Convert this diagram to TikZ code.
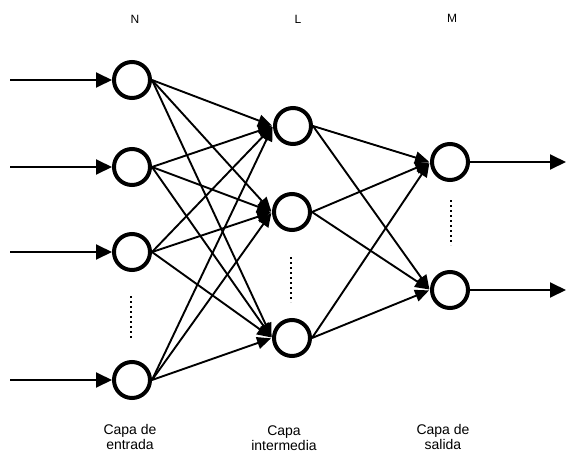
\documentclass[tikz,border=0pt]{standalone}
\usepackage{fontspec}
\setmainfont{Liberation Sans}
\usetikzlibrary{arrows.meta}
\begin{document}
\begin{tikzpicture}[x=1pt,y=-1pt,
  neuron/.style={circle,draw,line width=4pt,minimum size=36pt,inner sep=0pt},
  conn/.style={line width=1.9pt,-{Triangle[length=14pt,width=12pt]},shorten >=1pt},
  io/.style={line width=1.9pt,-{Triangle[length=16pt,width=15pt]}},
  dotsline/.style={line width=2.5pt,dash pattern=on 2pt off 3pt},
  toplabel/.style={font=\fontsize{12}{14}\selectfont,inner sep=0pt},
  caplabel/.style={font=\fontsize{14}{15.5}\selectfont,align=center,inner sep=0pt}]
\useasboundingbox (0,0) rectangle (566,453);
% nodes
\node[neuron] (i1) at (132,80) {};
\node[neuron] (i2) at (132,167) {};
\node[neuron] (i3) at (132,252) {};
\node[neuron] (i4) at (132,380) {};
\node[neuron] (h1) at (293,126) {};
\node[neuron] (h2) at (292,212) {};
\node[neuron] (h3) at (292,338) {};
\node[neuron] (o1) at (450,162) {};
\node[neuron] (o2) at (450,290) {};
% input / output free ends
\coordinate (a1) at (10,80);
\coordinate (a2) at (10,167);
\coordinate (a3) at (10,252);
\coordinate (a4) at (10,380);
\coordinate (b1) at (566,162);
\coordinate (b2) at (566,290);
\foreach \k in {1,2,3,4} \draw[io] (a\k) -- (i\k.west);
\foreach \k in {1,2} \draw[io] (o\k.east) -- (b\k);
% connections
\foreach \s in {1,2,3,4}
  \foreach \t in {1,2,3}
    \draw[conn] (i\s.east) -- (h\t.west);
\foreach \s in {1,2,3}
  \foreach \t in {1,2}
    \draw[conn] (h\s.east) -- (o\t.west);
% dotted ellipses
\coordinate (d1a) at (131,296); \coordinate (d1b) at (131,340);
\coordinate (d2a) at (291,257); \coordinate (d2b) at (291,302);
\coordinate (d3a) at (451,200); \coordinate (d3b) at (451,245);
\draw[dotsline] (d1a) -- (d1b);
\draw[dotsline] (d2a) -- (d2b);
\draw[dotsline] (d3a) -- (d3b);
% labels
\node[toplabel] (lN) at (135,19) {N};
\node[toplabel] (lL) at (298,19) {L};
\node[toplabel] (lM) at (452,18) {M};
\node[caplabel] (c1) at (130,437) {Capa de\\entrada};
\node[caplabel] (c2) at (284,438) {Capa\\intermedia};
\node[caplabel] (c3) at (443,437) {Capa de\\salida};
\end{tikzpicture}
\end{document}
